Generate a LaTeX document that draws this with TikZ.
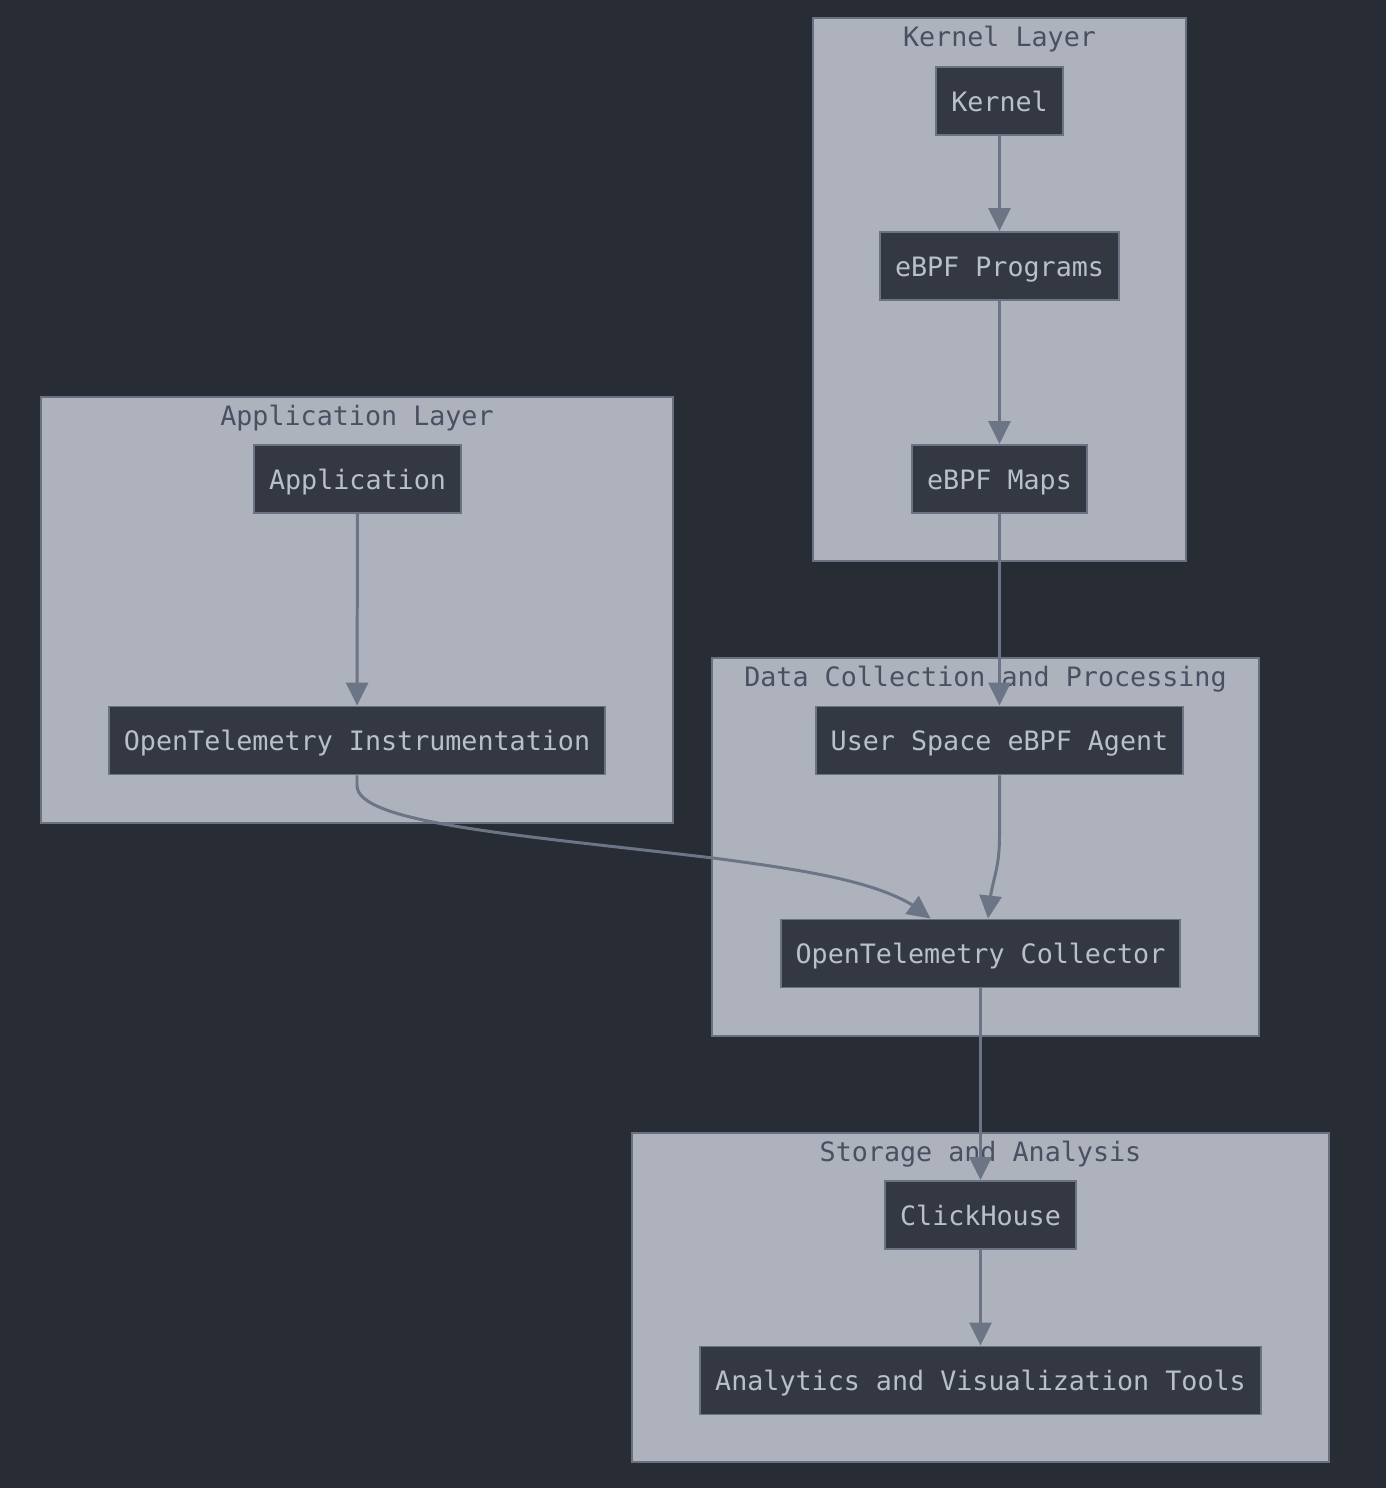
\documentclass[tikz,border=0pt]{standalone}
\usepackage{fontspec}
\setmonofont{DejaVu Sans Mono}
\usepackage{tikz}
\usetikzlibrary{arrows.meta, bending, positioning, calc}

\definecolor{bgdark}{HTML}{282C34}
\definecolor{clusterfill}{HTML}{ADB2BD}
\definecolor{clusterline}{HTML}{6A7080}
\definecolor{boxfill}{HTML}{333842}
\definecolor{boxline}{HTML}{6B7283}
\definecolor{boxtext}{HTML}{BAC0CA}
\definecolor{titletext}{HTML}{4A5062}
\definecolor{edgecolor}{HTML}{6C7586}

\begin{document}
\begin{tikzpicture}[
  x=0.02cm, y=-0.02cm,
  cluster/.style={draw=clusterline, fill=clusterfill, line width=1.1pt, inner sep=0pt},
  clustertitle/.style={font=\ttfamily\fontsize{15.2}{18}\selectfont, text=titletext, inner sep=0pt},
  block/.style={draw=boxline, fill=boxfill, line width=1.1pt, minimum height=1.36cm,
                inner xsep=0.3cm, font=\ttfamily\fontsize{15.2}{18}\selectfont, text=boxtext,
                text height=11.5pt, text depth=0pt},
  arrow/.style={-{Triangle[length=0.46cm, width=0.44cm]}, line width=1.7pt, draw=edgecolor}
]

% background / bounding box
\fill[bgdark] (0,0) rectangle (1386,1488);
\useasboundingbox (0,0) rectangle (1386,1488);

% clusters
\node[cluster, minimum width=7.46cm,  minimum height=10.86cm] (kl) at (999.5,289.5) {};
\node[cluster, minimum width=12.64cm, minimum height=8.52cm]  (al) at (357,610) {};
\node[cluster, minimum width=10.94cm, minimum height=7.56cm]  (dc) at (985.5,847) {};
\node[cluster, minimum width=13.94cm, minimum height=6.58cm]  (sa) at (980.5,1297.5) {};

\node[clustertitle] (kltitle) at ([yshift=-0.44cm]kl.north) {Kernel Layer};
\node[clustertitle] (altitle) at ([yshift=-0.44cm]al.north) {Application Layer};
\node[clustertitle] (dctitle) at ([yshift=-0.44cm]dc.north) {Data Collection and Processing};
\node[clustertitle] (satitle) at ([yshift=-0.44cm]sa.north) {Storage and Analysis};

% kernel layer
\node[block] (kernel) at (999.5,101) {Kernel};
\node[block] (prog)   at (999.5,266) {eBPF Programs};
\node[block] (maps)   at (999.5,479) {eBPF Maps};

% application layer
\node[block] (app)   at (357.5,479) {Application};
\node[block] (instr) at (357,740.5) {OpenTelemetry Instrumentation};

% data collection
\node[block] (agent) at (999.5,740.5) {User Space eBPF Agent};
\node[block] (coll)  at (980.5,953.5) {OpenTelemetry Collector};

% storage
\node[block] (ch)    at (980.5,1215) {ClickHouse};
\node[block] (tools) at (980.5,1380.5) {Analytics and Visualization Tools};

% edges
\draw[arrow] (kernel) -- (prog);
\draw[arrow] (prog) -- (maps);
\draw[arrow] (maps) -- (agent);
\draw[arrow] (app) -- (instr);

\draw[arrow] (instr.south) -- ++(0,10)
  .. controls ++(0,38) and (520,835) .. (713,858)
  .. controls (820,872) and ([xshift=-1.72cm,yshift=0.68cm]coll.north) .. ([xshift=-1.0cm]coll.north);

\draw[arrow] (agent.south) -- ++(0,60)
  .. controls ++(0,40) and ([xshift=0.2cm,yshift=0.8cm]coll.north) .. ([xshift=0.15cm]coll.north);

\draw[arrow] (coll) -- (ch);
\draw[arrow] (ch) -- (tools);

\end{tikzpicture}
\end{document}
